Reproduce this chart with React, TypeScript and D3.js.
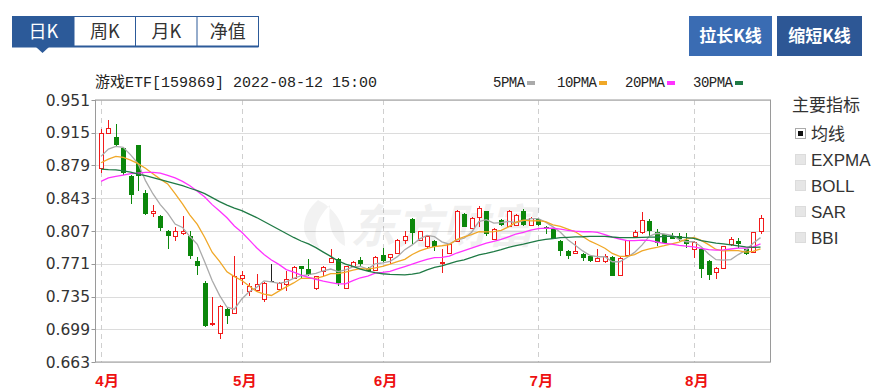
import React from 'react';
import * as d3 from 'd3';

// ---- data ----
const monthIdx = [0, 19, 38, 59, 80];
const monthLabels = ['4月', '5月', '6月', '7月', '8月'];
const yTicks = [0.663, 0.699, 0.735, 0.771, 0.807, 0.843, 0.879, 0.915, 0.951];
const tabLabels = ['日K', '周K', '月K', '净值'];
const indicatorLabels = ['均线', 'EXPMA', 'BOLL', 'SAR', 'BBI'];
const legendLabels = ['5PMA', '10PMA', '20PMA', '30PMA'];
const legendColors = ['#aaaaaa', '#f0a828', '#ff33ff', '#1f7a45'];

const OPEN = [0.876, 0.915, 0.910, 0.898, 0.867, 0.901, 0.849, 0.827, 0.824, 0.807,
  0.801, 0.805, 0.801, 0.774, 0.750, 0.705, 0.695, 0.721, 0.717, 0.755,
  0.741, 0.7424, 0.732, 0.752, 0.7437, 0.7484, 0.7557, 0.768, 0.7656, 0.744,
  0.763, 0.7728, 0.7766, 0.7448, 0.7685, 0.7747, 0.7663, 0.764, 0.7802, 0.7788,
  0.7831, 0.7969, 0.8204, 0.7966, 0.790, 0.7958, 0.7714, 0.7831, 0.7958, 0.8262,
  0.8105, 0.8225, 0.8287, 0.7985, 0.8188, 0.8123, 0.8141, 0.8287, 0.8141, 0.8204,
  0.8116, 0.8105, 0.7958, 0.7849, 0.7831, 0.782, 0.7794, 0.7739, 0.7739, 0.7785,
  0.7583, 0.7802, 0.802, 0.8057, 0.8177, 0.8057, 0.8032, 0.8013, 0.8013, 0.7966,
  0.7875, 0.7875, 0.7739, 0.7619, 0.7667, 0.7922, 0.7958, 0.7868, 0.7838, 0.8068];
const HIGH = [0.919, 0.929, 0.925, 0.899, 0.869, 0.902, 0.852, 0.836, 0.825, 0.808,
  0.811, 0.823, 0.807, 0.778, 0.752, 0.734, 0.726, 0.722, 0.779, 0.763,
  0.750, 0.7594, 0.751, 0.7703, 0.751, 0.763, 0.769, 0.7685, 0.7766, 0.758,
  0.7685, 0.7868, 0.777, 0.769, 0.774, 0.7788, 0.767, 0.779, 0.7886, 0.782,
  0.798, 0.8068, 0.821, 0.8075, 0.802, 0.797, 0.7868, 0.793, 0.830, 0.827,
  0.822, 0.8349, 0.829, 0.810, 0.8207, 0.8305, 0.826, 0.8316, 0.822, 0.8215,
  0.8125, 0.811, 0.797, 0.786, 0.7958, 0.783, 0.780, 0.7868, 0.7813, 0.779,
  0.778, 0.797, 0.808, 0.8276, 0.8204, 0.8094, 0.804, 0.805, 0.805, 0.805,
  0.7958, 0.788, 0.775, 0.767, 0.791, 0.8002, 0.7995, 0.787, 0.806, 0.825];
const LOW = [0.871, 0.914, 0.900, 0.869, 0.837, 0.851, 0.825, 0.822, 0.807, 0.787,
  0.796, 0.803, 0.776, 0.759, 0.702, 0.703, 0.688, 0.705, 0.716, 0.748,
  0.736, 0.7397, 0.7287, 0.752, 0.743, 0.741, 0.755, 0.7557, 0.758, 0.742,
  0.7575, 0.772, 0.7466, 0.743, 0.768, 0.7685, 0.762, 0.763, 0.7725, 0.7703,
  0.782, 0.7922, 0.7922, 0.796, 0.787, 0.7849, 0.7612, 0.782, 0.795, 0.811,
  0.810, 0.811, 0.802, 0.798, 0.812, 0.812, 0.813, 0.813, 0.813, 0.813,
  0.8032, 0.798, 0.7794, 0.7758, 0.7813, 0.7739, 0.773, 0.773, 0.772, 0.757,
  0.757, 0.779, 0.8013, 0.8032, 0.801, 0.7903, 0.7925, 0.7977, 0.7958, 0.7886,
  0.7776, 0.755, 0.753, 0.7539, 0.766, 0.791, 0.7886, 0.781, 0.783, 0.8032];
const CLOSE = [0.9145, 0.920, 0.901, 0.871, 0.847, 0.867, 0.826, 0.829, 0.8105, 0.801,
  0.807, 0.807, 0.779, 0.768, 0.703, 0.706, 0.725, 0.714, 0.7575, 0.759,
  0.746, 0.7484, 0.7503, 0.752, 0.7503, 0.7539, 0.7678, 0.765, 0.7583, 0.7575,
  0.7678, 0.7776, 0.7503, 0.7685, 0.7733, 0.7703, 0.763, 0.7788, 0.774, 0.7813,
  0.7969, 0.8013, 0.805, 0.8068, 0.801, 0.7897, 0.7728, 0.7922, 0.8287, 0.8116,
  0.8215, 0.8324, 0.8032, 0.8094, 0.8141, 0.8287, 0.8251, 0.8141, 0.8215, 0.8141,
  0.8094, 0.7985, 0.7849, 0.7794, 0.7849, 0.7776, 0.7739, 0.7776, 0.7794, 0.7577,
  0.7776, 0.7969, 0.8057, 0.8196, 0.8068, 0.7933, 0.7933, 0.7985, 0.7977, 0.793,
  0.7947, 0.7648, 0.7583, 0.7667, 0.7904, 0.7977, 0.7922, 0.7813, 0.8057, 0.8215];

const MA5 = [0.889, 0.897, 0.900, 0.899, 0.8907, 0.8812, 0.8624, 0.848, 0.8359, 0.8267,
  0.8147, 0.8109, 0.8009, 0.7924, 0.7728, 0.7526, 0.7362, 0.7232, 0.7211, 0.7323,
  0.7403, 0.745, 0.7522, 0.7511, 0.7494, 0.751, 0.7549, 0.7578, 0.7591, 0.7605,
  0.7633, 0.7652, 0.7623, 0.7643, 0.7675, 0.768, 0.7651, 0.7708, 0.7719, 0.7735,
  0.7788, 0.7865, 0.7917, 0.7983, 0.8022, 0.8008, 0.7951, 0.7925, 0.7969, 0.799,
  0.8054, 0.8173, 0.8195, 0.8156, 0.8161, 0.8176, 0.8161, 0.8183, 0.8207, 0.8207,
  0.8168, 0.8115, 0.8057, 0.7973, 0.7914, 0.7851, 0.7801, 0.7787, 0.7787, 0.7732,
  0.7732, 0.7778, 0.7835, 0.7915, 0.8013, 0.8045, 0.8037, 0.8023, 0.7979, 0.7952,
  0.7954, 0.7897, 0.7817, 0.7755, 0.775, 0.7756, 0.7811, 0.7857, 0.7935, 0.7997];
const MA10 = [0.882, 0.886, 0.889, 0.888, 0.885, 0.881, 0.876, 0.870, 0.864, 0.8587,
  0.848, 0.8367, 0.8245, 0.8142, 0.7998, 0.7837, 0.7736, 0.7621, 0.7568, 0.7526,
  0.7465, 0.7406, 0.7377, 0.7361, 0.7409, 0.7456, 0.7499, 0.755, 0.7551, 0.755,
  0.7571, 0.7601, 0.7601, 0.7617, 0.764, 0.7656, 0.7652, 0.7665, 0.7681, 0.7705,
  0.7734, 0.7758, 0.7812, 0.7851, 0.7878, 0.7898, 0.7908, 0.7921, 0.7976, 0.8006,
  0.8031, 0.8062, 0.806, 0.8063, 0.8076, 0.8115, 0.8167, 0.8189, 0.8182, 0.8184,
  0.8172, 0.8138, 0.812, 0.809, 0.8061, 0.801, 0.7958, 0.7922, 0.788, 0.7823,
  0.7792, 0.779, 0.7811, 0.7851, 0.7873, 0.7889, 0.7908, 0.7929, 0.7947, 0.7982,
  0.8, 0.7967, 0.792, 0.7867, 0.7851, 0.7855, 0.7854, 0.7837, 0.7845, 0.7873];
const MA20 = [0.8615, 0.8653, 0.867, 0.8685, 0.870, 0.8707, 0.8714, 0.8714, 0.8707, 0.8681,
  0.8653, 0.8615, 0.8568, 0.8506, 0.8444, 0.836, 0.829, 0.8215, 0.8125, 0.8056,
  0.7972, 0.7886, 0.7811, 0.7751, 0.7703, 0.7646, 0.7617, 0.7585, 0.7559, 0.7538,
  0.7518, 0.7503, 0.7489, 0.7489, 0.7524, 0.7556, 0.7575, 0.7608, 0.7616, 0.7627,
  0.7653, 0.7679, 0.7706, 0.7734, 0.7759, 0.7777, 0.778, 0.7793, 0.7828, 0.7855,
  0.7882, 0.791, 0.7936, 0.7957, 0.7977, 0.8006, 0.8037, 0.8055, 0.8079, 0.8095,
  0.8101, 0.81, 0.809, 0.8076, 0.8068, 0.8062, 0.8063, 0.8055, 0.8031, 0.8004,
  0.7982, 0.7964, 0.7965, 0.797, 0.7967, 0.7949, 0.7933, 0.7925, 0.7913, 0.7903,
  0.7896, 0.7879, 0.7865, 0.7859, 0.7862, 0.7872, 0.7881, 0.7883, 0.7896, 0.7928];
const MA30 = [0.875, 0.8745, 0.8743, 0.873, 0.8716, 0.8695, 0.8678, 0.8656, 0.8634, 0.8612,
  0.859, 0.8568, 0.854, 0.8513, 0.848, 0.8437, 0.8393, 0.8355, 0.8322, 0.8294,
  0.8256, 0.8218, 0.8174, 0.813, 0.8086, 0.8043, 0.7999, 0.796, 0.7928, 0.7887,
  0.7838, 0.7791, 0.7741, 0.7707, 0.7682, 0.765, 0.7629, 0.7612, 0.76, 0.7593,
  0.759, 0.7588, 0.7597, 0.761, 0.7642, 0.767, 0.7686, 0.7712, 0.7736, 0.7753,
  0.7779, 0.7807, 0.7824, 0.7843, 0.7865, 0.789, 0.7909, 0.7925, 0.7946, 0.7965,
  0.7979, 0.7986, 0.7997, 0.8001, 0.8005, 0.8007, 0.8011, 0.8011, 0.8012, 0.8004,
  0.7998, 0.7997, 0.7997, 0.8001, 0.8003, 0.8004, 0.8011, 0.8013, 0.8003, 0.7997,
  0.7988, 0.7965, 0.795, 0.7936, 0.7928, 0.7918, 0.7907, 0.7896, 0.7891, 0.7893];

const RED = '#f21b1b';
const GREEN = '#0b870b';
const BLUE = '#2c5a99';

export default function App() {
  const W = 883, H = 392;
  const L = 95.5, R = 770.5, T = 100, B = 362;
  const n = CLOSE.length;
  const x = d3.scaleLinear().domain([0, n - 1]).range([101, 760.5]);
  const y = d3.scaleLinear().domain([0.663, 0.951]).range([B, T]);
  const px = (i: number) => Math.round(x(i));
  const line = d3.line<number>().x((_, i) => x(i)).y((d) => y(d));
  const maSeries = [MA5, MA10, MA20, MA30];

  const monoFont = "'Liberation Mono', 'Noto Sans CJK SC', monospace";
  const cjkFont = "'Noto Sans CJK SC', sans-serif";

  const tabW = 61.5;

  return (
    <svg width={W} height={H} style={{ position: 'absolute', left: 0, top: 0, display: 'block' }}
      xmlns="http://www.w3.org/2000/svg">
      <rect x={0} y={0} width={W} height={H} fill="#fff" />

      {/* tabs */}
      <g>
        <rect x={12.5} y={16.5} width={tabW * 4} height={30} fill="#fff" stroke={BLUE} strokeWidth={1} />
        <rect x={12.5} y={16.5} width={tabW} height={30} fill={BLUE} />
        {tabLabels.map((t, i) => (
          <g key={t}>
            {i > 0 && <line x1={12.5 + tabW * i} x2={12.5 + tabW * i} y1={16.5} y2={46.5} stroke={BLUE} />}
            <text x={12.5 + tabW * i + tabW / 2} y={38} textAnchor="middle" fontFamily={cjkFont}
              fontSize={18} fill={i === 0 ? '#fff' : '#333'}>{t}</text>
          </g>
        ))}
        <line x1={12} x2={258.5} y1={46.5} y2={46.5} stroke={BLUE} strokeWidth={2} />
        <path d="M36,47 L49,47 L42.5,53 Z" fill={BLUE} />
      </g>

      {/* buttons */}
      <g>
        <rect x={689} y={16} width={83} height={40} fill="#3a6cb3" />
        <text x={730.5} y={42} textAnchor="middle" fontFamily={cjkFont} fontWeight="bold" fontSize={17} fill="#fff">拉长K线</text>
        <rect x={777} y={16} width={85} height={40} fill="#2d5795" />
        <text x={819.5} y={42} textAnchor="middle" fontFamily={cjkFont} fontWeight="bold" fontSize={17} fill="#fff">缩短K线</text>
      </g>

      {/* title */}
      <text x={95} y={87} fontFamily={monoFont} fontSize={15} fill="#222">游戏ETF[159869] 2022-08-12 15:00</text>

      {/* legend */}
      {(() => {
        const xs = [493, 557, 625, 693];
        return legendLabels.map((lab, i) => (
          <g key={lab}>
            <text x={xs[i]} y={87} fontFamily={monoFont} fontSize={14} fill="#222" letterSpacing={-0.5}>{lab}</text>
            <rect x={xs[i] + lab.length * 8 + 2} y={81} width={8} height={4} fill={legendColors[i]} />
          </g>
        ));
      })()}

      {/* grid */}
      <g>
        {yTicks.map((t) => (
          <g key={t}>
            <line x1={L} x2={R} y1={Math.round(y(t)) + 0.5} y2={Math.round(y(t)) + 0.5} stroke="#dcdcdc" />
            <line x1={L - 4} x2={L} y1={Math.round(y(t)) + 0.5} y2={Math.round(y(t)) + 0.5} stroke="#999" />
            <text x={90} y={y(t)} dy="0.36em" textAnchor="end" fontFamily="'DejaVu Sans', Verdana, sans-serif"
              fontSize={15.5} fill="#333">{t.toFixed(3)}</text>
          </g>
        ))}
        {monthIdx.map((mi, k) => (
          <g key={mi}>
            <line x1={px(mi) + 0.5} x2={px(mi) + 0.5} y1={T} y2={B} stroke="#cfcfcf" strokeDasharray="5,4" />
            <text x={k === 0 ? 95 : x(mi) + 3} y={386} textAnchor={k === 0 ? 'start' : 'middle'}
              fontFamily={monoFont} fontSize={15} fontWeight="bold" fill="#ee1111">{monthLabels[k]}</text>
          </g>
        ))}
      </g>

      {/* watermark */}
      <text x={350} y={243} fontFamily={cjkFont} fontSize={46} fontWeight="bold" fontStyle="italic"
        fill="#000" opacity={0.055}>东方财富</text>
      <path d="M318,200 C300,215 298,240 320,248 C312,235 315,220 330,205 C328,222 330,238 345,246 C346,228 338,210 318,200 Z"
        fill="#000" opacity={0.05} />

      {/* candles */}
      <g>
        {CLOSE.map((c, i) => {
          const o = OPEN[i];
          const cx = px(i);
          const up = c > o;
          const flat = c === o;
          const col = flat ? '#222' : up ? RED : GREEN;
          const top = Math.round(y(Math.max(o, c)));
          const bot = Math.round(y(Math.min(o, c)));
          return (
            <g key={i}>
              <line x1={cx + 0.5} x2={cx + 0.5} y1={Math.round(y(HIGH[i]))} y2={Math.round(y(LOW[i]))} stroke={col} strokeWidth={1} />
              {flat ? (
                <line x1={cx - 2} x2={cx + 3} y1={top + 0.5} y2={top + 0.5} stroke={col} />
              ) : up ? (
                <rect x={cx - 1.5} y={top + 0.5} width={4} height={Math.max(1, bot - top)} fill="#fff" stroke={col} strokeWidth={1} />
              ) : (
                <rect x={cx - 2} y={top} width={5} height={Math.max(1, bot - top)} fill={col} />
              )}
            </g>
          );
        })}
      </g>

      {/* moving averages */}
      <g fill="none">
        {maSeries.map((s, k) => (
          <path key={k} d={line(s) || ''} stroke={legendColors[k]} strokeWidth={1.3} />
        ))}
      </g>

      {/* border */}
      <rect x={L} y={T} width={R - L} height={B - T} fill="none" stroke="#9a9a9a" strokeWidth={1} />

      {/* indicator panel */}
      <g>
        <text x={792} y={111} fontFamily={cjkFont} fontSize={17} fill="#333">主要指标</text>
        {indicatorLabels.map((lab, i) => {
          const cy = 134 + i * 26;
          return (
            <g key={lab}>
              <rect x={795.5} y={cy - 5.5} width={10} height={10} fill={i === 0 ? '#fff' : '#e6e6e6'} stroke={i === 0 ? '#aaa' : '#dcdcdc'} />
              {i === 0 && <rect x={798} y={cy - 3} width={5} height={5} fill="#111" />}
              <text x={811} y={cy} dy="0.36em" fontFamily={i === 0 ? cjkFont : "'Liberation Sans', Arial, sans-serif"}
                fontSize={17} fill="#333">{lab}</text>
            </g>
          );
        })}
      </g>
    </svg>
  );
}
